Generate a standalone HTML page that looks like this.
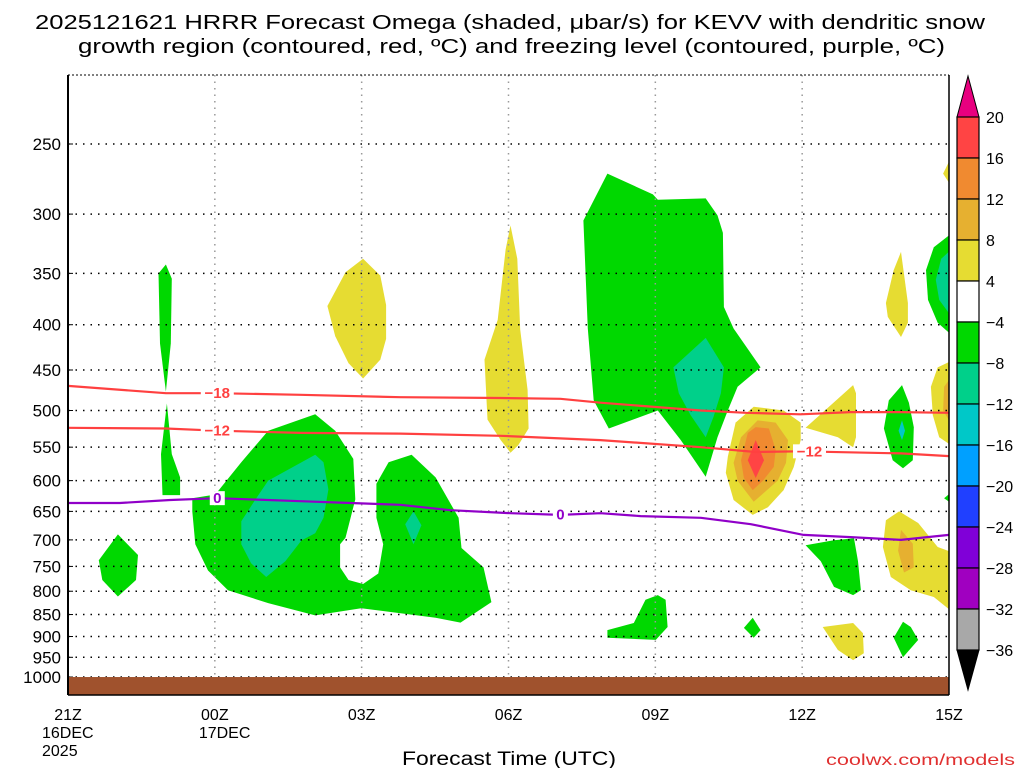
<!DOCTYPE html>
<html><head><meta charset="utf-8">
<style>
html,body{margin:0;padding:0;background:#fff;}
svg text{font-family:"Liberation Sans",sans-serif;}
</style></head>
<body>
<svg id="chart" width="1024" height="768" xmlns="http://www.w3.org/2000/svg">
<text x="35" y="29" textLength="950" lengthAdjust="spacingAndGlyphs" font-size="20">2025121621 HRRR Forecast Omega (shaded, μbar/s) for KEVV with dendritic snow</text>
<text x="78" y="53" textLength="867" lengthAdjust="spacingAndGlyphs" font-size="20">growth region (contoured, red, ºC) and freezing level (contoured, purple, ºC)</text>
<text x="402" y="765" textLength="214" lengthAdjust="spacingAndGlyphs" font-size="19">Forecast Time (UTC)</text>
<text x="826" y="765" textLength="189" lengthAdjust="spacingAndGlyphs" font-size="16" fill="#e03030">coolwx.com/models</text>
<g id="plot"></g>
<g id="cbar"></g>
</svg>
<script>
const NS="http://www.w3.org/2000/svg";
const X0=68,X1=949,HRS=18,Y250=144,K=384.5,YTOP=75,YBOT=695;
function xs(h){return X0+(X1-X0)*h/HRS;}
function ys(p){return Y250+K*Math.log(p/250);}

const pressureTicks=[250,300,350,400,450,500,550,600,650,700,750,800,850,900,950,1000];
const timeTickHours=[0,3,6,9,12,15,18];
const timeTickLabels=[["21Z","16DEC","2025"],["00Z","17DEC"],["03Z"],["06Z"],["09Z"],["12Z"],["15Z"]];

const cbLevels=["20","16","12","8","4","−4","−8","−12","−16","−20","−24","−28","−32","−36"];
const cbColors=["#ff4444","#f08a30","#e6b030","#e6dc32","#ffffff","#00d800","#00d08a","#00c8c8","#00a0ff","#2040ff","#8000d8","#a000c0","#a8a8a8"];

const dgzWarm=[[0,523],[2,524],[3.05,527],[4.75,530],[6.79,531],[8.84,534],[10.88,540],[12.93,550],[14.05,557],[14.97,556],[17.02,559],[18,563]];
const dgzCold=[[0,469],[2,478],[3.05,478],[4.75,480],[6.79,483],[8.84,484],[10.06,485],[10.88,490],[12.93,500],[13.85,503],[14.97,505],[15.99,502],[17.02,502],[18,503]];
const freezing=[[0,636],[1.06,636],[2.09,631],[3.05,628],[4.75,633],[5.77,636],[6.79,639],[7.81,648],[9.04,653],[10.06,656],[10.88,653],[11.7,658],[12.93,661],[13.95,672],[15.03,691],[15.99,695],[17.02,700],[18,691]];

const greenA=[[1.85,350],[2.0,342],[2.12,355],[2.1,420],[2.0,476],[1.88,420]];
const greenB=[[2.02,491],[2.12,560],[2.29,595],[2.29,623],[1.93,623],[1.9,560]];
const greenC=[[1.02,690],[1.43,728],[1.39,777],[1.02,811],[0.70,777],[0.63,738]];
const greenBig=[[2.54,628],[3.01,622],[3.54,572],[4.09,527],[5.05,505],[5.46,527],[5.83,567],[5.87,630],[5.67,696],[5.56,708],[5.56,752],[5.73,777],[6.03,785],[6.34,764],[6.44,708],[6.30,661],[6.30,605],[6.55,572],[7.02,561],[7.51,595],[7.98,661],[8.04,715],[8.49,752],[8.65,823],[8.02,868],[7.51,857],[5.99,836],[5.05,852],[4.09,825],[3.27,798],[2.86,758],[2.60,708],[2.54,650]];
const tealBig=[[3.54,667],[3.83,630],[4.09,600],[5.05,561],[5.22,572],[5.32,614],[5.22,661],[5.05,688],[4.77,701],[4.44,740],[4.05,771],[3.74,744],[3.54,708]];
const tealSmall=[[7.06,650],[7.22,674],[7.06,708],[6.89,672]];
const yellowA=[[5.30,381],[5.67,349],[6.03,337],[6.38,352],[6.50,380],[6.50,415],[6.38,438],[6.03,460],[5.73,442],[5.46,412]];
const yellowB=[[8.94,329],[9.04,309],[9.18,337],[9.24,405],[9.39,474],[9.41,524],[9.20,547],[9.04,558],[8.84,540],[8.57,512],[8.51,438],[8.78,395]];
const green09=[[10.53,305],[11.02,270],[11.95,285],[12.05,289],[13.03,288],[13.27,301],[13.38,315],[13.40,382],[13.60,404],[14.15,447],[13.68,470],[13.48,500],[13.27,536],[13.03,594],[12.52,540],[12.05,500],[11.05,524],[10.74,487],[10.62,404]];
const teal09=[[12.37,447],[13.03,414],[13.40,447],[13.34,478],[13.19,508],[13.03,536],[12.72,506],[12.48,478]];
const y11=[[13.48,564],[13.64,516],[14.01,495],[14.62,500],[14.97,516],[14.97,540],[14.83,579],[14.62,615],[14.30,643],[13.99,656],[13.60,631],[13.44,588]];
const g11=[[13.60,573],[13.75,536],[14.09,513],[14.46,516],[14.71,540],[14.67,573],[14.50,600],[14.01,634],[13.68,600]];
const o11=[[13.75,569],[13.89,530],[14.05,522],[14.32,524],[14.46,554],[14.42,579],[14.20,600],[13.99,615],[13.81,596]];
const r11=[[13.89,569],[14.05,540],[14.22,569],[14.05,596]];
const yTri=[[15.07,523],[16.04,468],[16.10,478],[16.10,536],[16.04,550],[15.73,536]];
const yThin=[[17.02,331],[17.16,378],[17.16,398],[17.02,413],[16.75,392],[16.71,378],[16.87,347]];
const gEdge=[[18.1,314],[17.69,327],[17.53,347],[17.57,375],[17.77,398],[18.1,413]];
const tEdge=[[18.1,327],[17.84,337],[17.73,356],[17.80,375],[18.1,395]];
const yTop=[[18.1,255],[17.88,270],[18.1,282]];
const yEdge=[[18.1,438],[17.77,447],[17.63,470],[17.67,506],[17.80,536],[18.1,550]];
const gldEdge=[[18.1,454],[17.90,470],[17.88,500],[18.1,524]];
const g14=[[17.04,468],[17.18,490],[17.28,522],[17.26,569],[17.06,581],[16.85,569],[16.67,524],[16.77,487]];
const t14=[[17.04,513],[17.10,527],[17.04,540],[16.97,527]];
const gTiny=[[18.1,615],[17.90,628],[18.1,640]];
const g12=[[15.07,710],[15.63,701],[16.06,697],[16.14,740],[16.20,798],[16.04,808],[15.65,791],[15.38,740]];
const yLow=[[16.98,650],[17.37,670],[17.77,713],[18.1,724],[18.1,847],[17.69,812],[17.22,798],[16.81,771],[16.65,713],[16.71,665]];
const gldLow=[[17.02,682],[17.26,707],[17.28,752],[17.08,762],[16.96,720]];
const g08=[[11.02,885],[11.56,869],[11.80,818],[12.05,808],[12.21,818],[12.25,878],[12.01,908],[11.02,903]];
const g11b=[[13.99,857],[14.15,885],[14.01,903],[13.81,880]];
const y12b=[[15.42,878],[16.04,869],[16.24,892],[16.26,940],[16.04,957],[15.73,932]];
const g14b=[[17.06,866],[17.22,878],[17.37,908],[17.06,950],[16.87,903]];

const plot=document.getElementById('plot');
const cb=document.getElementById('cbar');
function mk(tag,attrs,parent){const e=document.createElementNS(NS,tag);for(const k in attrs)e.setAttribute(k,attrs[k]);parent.appendChild(e);return e;}
function pts(a){return a.map(d=>xs(d[0]).toFixed(1)+','+ys(d[1]).toFixed(1)).join(' ');}

const defs=mk('defs',{},plot);
const cp=mk('clipPath',{id:'pc'},defs);
mk('rect',{x:X0,y:YTOP,width:X1-X0,height:YBOT-YTOP},cp);
const shades=mk('g',{'clip-path':'url(#pc)'},plot);

function region(arr,color,name){
  const e=mk('polygon',{points:pts(arr),fill:color},shades);
  
  
}
region(greenA,'#00d800','omega-region-green');
region(greenB,'#00d800','omega-region-green');
region(greenC,'#00d800','omega-region-green');
region(greenBig,'#00d800','omega-region-green');
region(tealBig,'#00d08a','omega-region-teal');
region(tealSmall,'#00d08a','omega-region-teal');
region(yellowA,'#e6dc32','omega-region-yellow');
region(yellowB,'#e6dc32','omega-region-yellow');
region(green09,'#00d800','omega-region-green');
region(teal09,'#00d08a','omega-region-teal');
region(y11,'#e6dc32','omega-region-yellow');
region(g11,'#e6b030','omega-region-gold');
region(o11,'#f08a30','omega-region-orange');
region(r11,'#ff4444','omega-region-red');
region(yTri,'#e6dc32','omega-region-yellow');
region(yThin,'#e6dc32','omega-region-yellow');
region(gEdge,'#00d800','omega-region-green');
region(tEdge,'#00d08a','omega-region-teal');
region(yTop,'#e6dc32','omega-region-yellow');
region(yEdge,'#e6dc32','omega-region-yellow');
region(gldEdge,'#e6b030','omega-region-gold');
region(g14,'#00d800','omega-region-green');
region(t14,'#00c8c8','omega-region-cyan');
region(gTiny,'#00d800','omega-region-green');
region(g12,'#00d800','omega-region-green');
region(yLow,'#e6dc32','omega-region-yellow');
region(gldLow,'#e6b030','omega-region-gold');
region(g08,'#00d800','omega-region-green');
region(g11b,'#00d800','omega-region-green');
region(y12b,'#e6dc32','omega-region-yellow');
region(g14b,'#00d800','omega-region-green');

pressureTicks.forEach(p=>{
  const y=ys(p);
  const l=mk('line',{x1:X0,x2:X1,y1:y,y2:y,stroke:'#000','stroke-width':1.5,'stroke-dasharray':'1.5,6'},plot);
  
  
  const t=mk('text',{x:61,y:y+6,'text-anchor':'end','font-size':17},plot);
  t.textContent=p;
  
  
  mk('line',{x1:X0,x2:X0+5,y1:y,y2:y,stroke:'#000'},plot);
});
timeTickHours.forEach((h,i)=>{
  const x=xs(h);
  if(i>0&&i<timeTickHours.length-1){
    const l=mk('line',{x1:x,x2:x,y1:YTOP,y2:YBOT,stroke:'#999','stroke-width':1.5,'stroke-dasharray':'1.5,5'},plot);
    
    
  }
  timeTickLabels[i].forEach((s,j)=>{
    const t=mk('text',{x:x,y:720+j*18,'text-anchor':j==0?'middle':'start','font-size':16},plot);
    if(j>0)t.setAttribute('x',x-(i==0?26:16));
    t.textContent=s;
    
    
  });
});

const g=mk('rect',{x:X0,y:ys(1000),width:X1-X0,height:YBOT-ys(1000),fill:'#a0522d'},plot);



function cline(arr,color,name){
  const e=mk('polyline',{points:pts(arr),fill:'none',stroke:color,'stroke-width':2.2},plot);
  
  
}
cline(dgzCold,'#ff4040','dgz-contour-minus18');
cline(dgzWarm,'#ff4040','dgz-contour-minus12');
cline(freezing,'#9000c8','freezing-level-contour');

function clabel(h,p,s,color){
  const x=xs(h),y=ys(p);
  const w=s.length*9+6;
  mk('rect',{x:x-w/2,y:y-7,width:w,height:14,fill:'#fff'},plot);
  const t=mk('text',{x:x,y:y+5,'text-anchor':'middle','font-size':15,'font-weight':'bold',fill:color},plot);
  t.textContent=s;
  
  
}
clabel(3.05,478,'−18','#ff4040');
clabel(3.05,527,'−12','#ff4040');
clabel(3.05,628,'0','#9000c8');
clabel(10.06,655,'0','#9000c8');
clabel(15.15,556,'−12','#ff4040');

mk('line',{x1:X0,x2:X0,y1:YTOP,y2:YBOT,stroke:'#000','stroke-width':2},plot);
mk('line',{x1:X1,x2:X1,y1:YTOP,y2:YBOT,stroke:'#000','stroke-width':1.5},plot);
mk('line',{x1:X0,x2:X1,y1:YBOT,y2:YBOT,stroke:'#000','stroke-width':1.5},plot);
mk('line',{x1:X0,x2:X1,y1:YTOP,y2:YTOP,stroke:'#000','stroke-width':1,'stroke-dasharray':'2,2'},plot);

const CX=957,CW=22,CT=117,BH=41;
const tri=mk('polygon',{points:`${CX},${CT} ${CX+CW/2},76 ${CX+CW},${CT}`,fill:'#e8007f',stroke:'#000'},cb);


cbColors.forEach((c,i)=>{
  const r=mk('rect',{x:CX,y:CT+i*BH,width:CW,height:BH,fill:c,stroke:'#000','stroke-width':1.2},cb);
  
  
});
const bt=CT+cbColors.length*BH;
const tri2=mk('polygon',{points:`${CX},${bt} ${CX+CW/2},690 ${CX+CW},${bt}`,fill:'#000',stroke:'#000'},cb);


cbLevels.forEach((s,i)=>{
  const t=mk('text',{x:986,y:CT+i*BH+6,'font-size':16},cb);
  t.textContent=s;
  
  
});
</script>
</body></html>
